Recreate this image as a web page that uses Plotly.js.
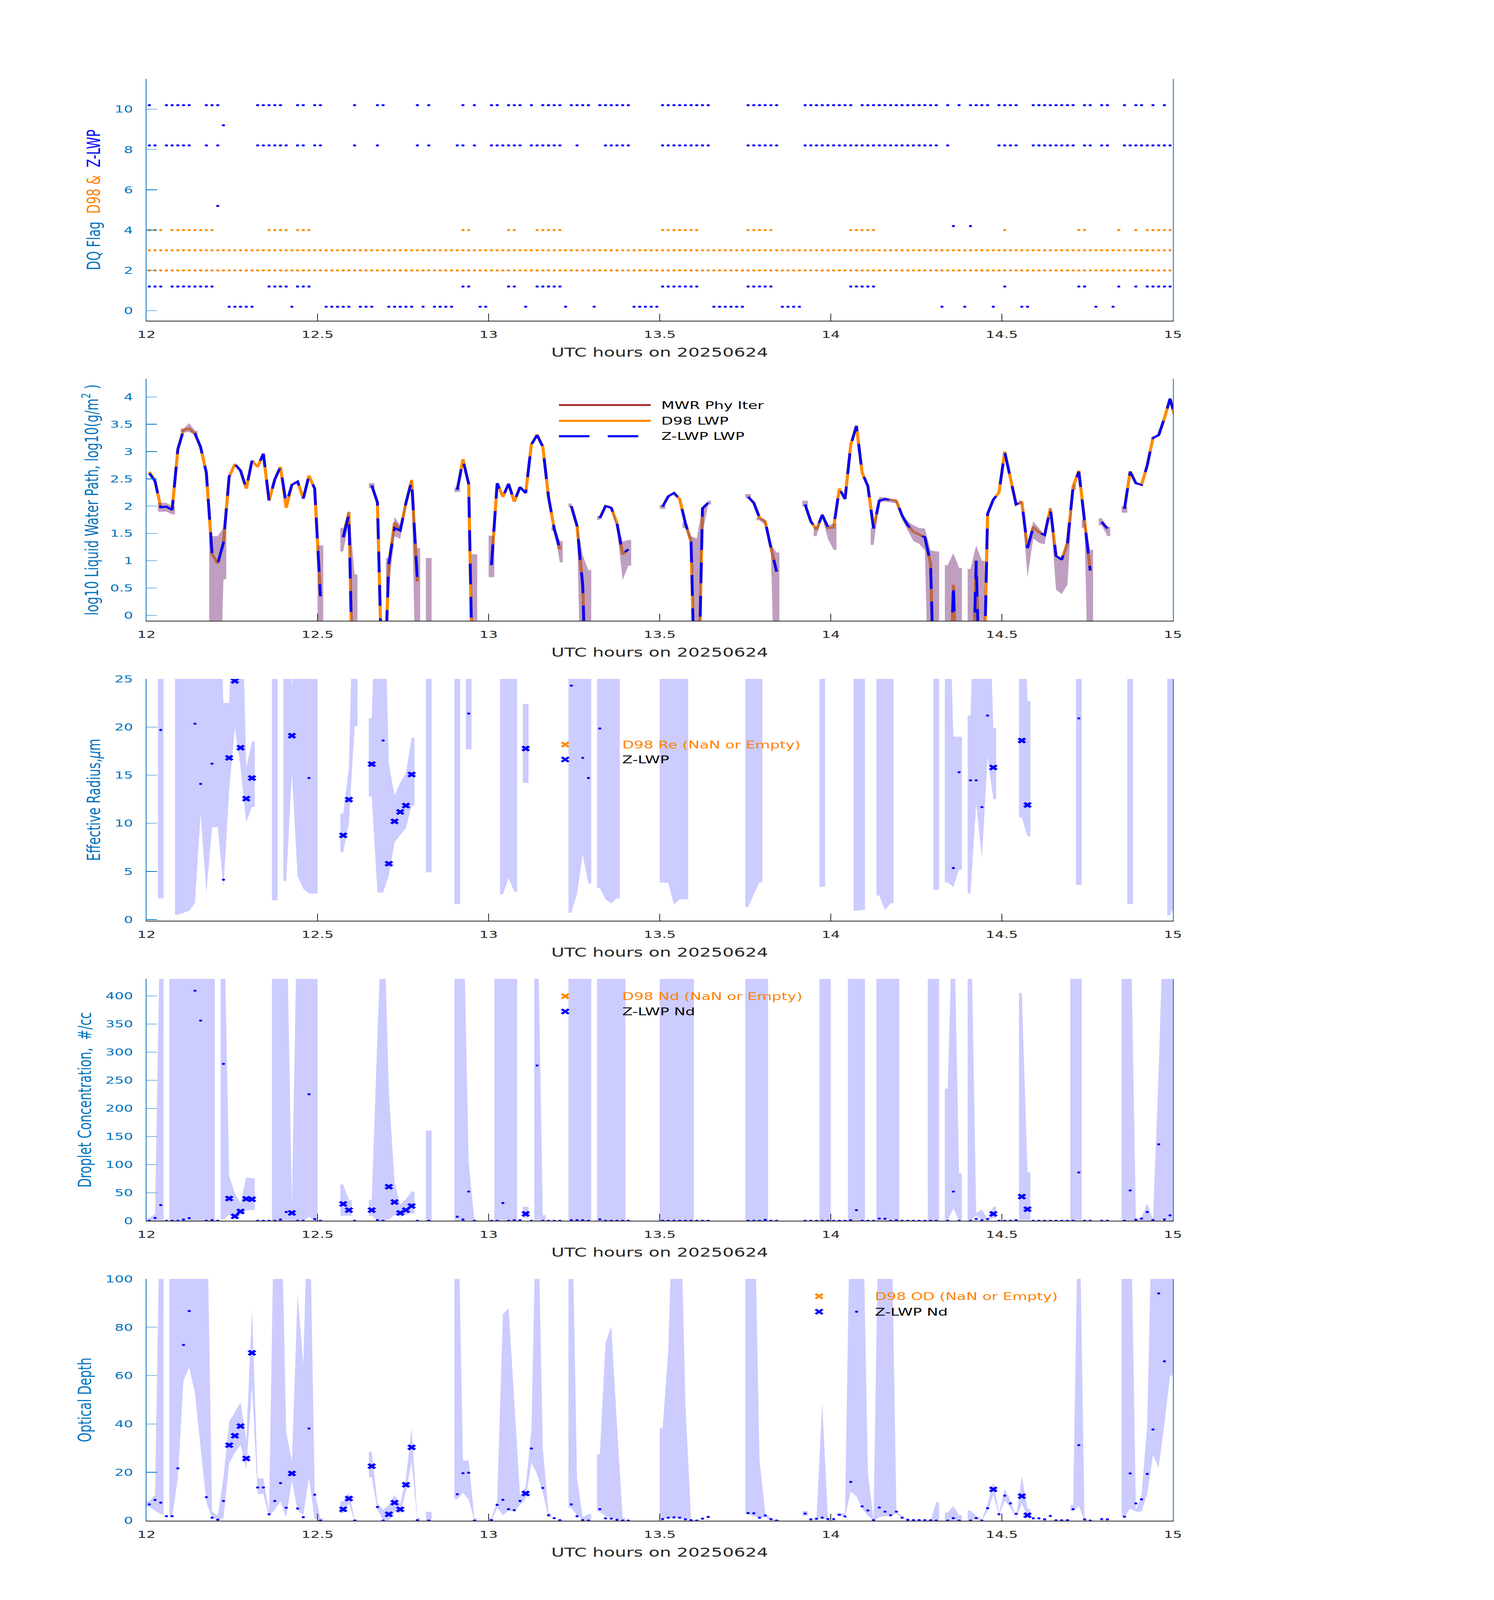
<!DOCTYPE html>
<html><head><meta charset="utf-8">
<script src="https://cdn.plot.ly/plotly-3.0.1.min.js"></script>
<style>html,body{margin:0;padding:0;background:#fff;overflow:hidden}#chart{width:3825px;height:6000px;transform-origin:0 0}</style>
</head><body><div id="chart"></div>
<script>
// ---------- time base: minute index (0 = 12:00-12:01 UTC) ----------
const startHour = 12;
const nMinutes = 181;
function hr(i){ return startHour + (i + 0.5) / 60; }
const xTicks = [12, 12.5, 13, 13.5, 14, 14.5, 15];

// ---------- Panel 1: DQ flags (minute indices where each flag is set) ----------
const d98FlagsAlways = [2, 3];            // set at every minute
const d98Flag4 = [0,1,2,4,5,6,7,8,9,10,11,21,22,23,24,26,27,28,55,56,63,64,68,69,70,71,72,90,91,92,93,94,95,96,105,106,107,108,109,123,124,125,126,127,150,163,164,170,173,175,176,177,178,179,180];
const zFlag10 = [0,3,4,5,6,7,10,11,12,19,20,21,22,23,26,27,29,30,36,40,41,47,49,55,57,60,61,63,64,65,67,69,70,71,72,74,75,76,77,79,80,81,82,83,84,90,91,92,93,94,95,96,97,98,105,106,107,108,109,110,115,116,117,118,119,120,121,122,123,125,126,127,128,129,130,131,132,133,134,135,136,137,138,140,142,144,145,146,147,149,150,151,152,155,156,157,158,159,160,161,162,164,165,167,168,171,173,174,176,178,180];
const zFlag9 = [13];
const zFlag8 = [0,1,3,4,5,6,7,10,12,19,20,21,22,23,24,26,27,29,30,36,40,47,49,54,55,57,60,61,62,63,64,65,67,68,69,70,71,72,75,80,81,82,83,84,90,91,92,93,94,95,96,97,98,105,106,107,108,109,110,115,116,117,118,119,120,121,122,123,124,125,126,127,128,129,130,131,132,133,134,135,136,137,138,140,149,150,151,152,155,156,157,158,159,160,161,162,164,165,167,168,171,172,173,174,175,176,177,178,179,180];
const zFlag5 = [12];
const zFlag4 = [141,144];
const zFlag1 = d98Flag4;
const zFlag0 = [14,15,16,17,18,25,31,32,33,34,35,37,38,39,42,43,44,45,46,48,50,51,52,53,58,59,66,73,78,85,86,87,88,89,99,100,101,102,103,104,111,112,113,114,139,143,148,153,154,166,169];

// ---------- Panel 2: log10 LWP  [minute, value] ----------
const lwpZ = [[0,2.60],[1,2.46],[2,1.98],[3,1.99],[4,1.93],[5,3.04],[6,3.40],[7,3.38],[8,3.33],[9,3.08],[10,2.61],[11,1.14],[12,0.95],[13,1.33],[14,2.54],[15,2.77],[16,2.65],[17,2.32],[18,2.83],[19,2.72],[20,2.96],[21,2.10],[22,2.49],[23,2.72],[24,2.05],[25,2.39],[26,2.45],[27,2.14],[28,2.56],[29,2.32],[30,0.35],
[34,1.43],[35,1.85],[36,-3],
[39,2.38],[40,2.07],[41,-2],[42,0.95],[43,1.60],[44,1.55],[45,2.06],[46,2.46],[47,0.66],
[54,2.30],[55,2.84],[56,2.41],[57,-3],
[60,0.92],[61,2.42],[62,2.17],[63,2.41],[64,2.08],[65,2.35],[66,2.24],[67,3.13],[68,3.30],[69,3.09],[70,2.17],[71,1.59],[72,1.21],
[74,2.00],[75,1.64],[76,0.55],[77,-3],
[79,1.78],[80,2.00],[81,1.97],[82,1.69],[83,1.12],[84,1.21],
[90,1.99],[91,2.18],[92,2.24],[93,2.13],[94,1.69],[95,1.35],[96,-3],[97,1.96],[98,2.06],
[105,2.17],[106,2.06],[107,1.79],[108,1.72],[109,1.24],[110,0.80],
[115,2.03],[116,1.72],[117,1.57],[118,1.84],[119,1.62],[120,1.61],[121,2.32],[122,2.13],[123,3.12],[124,3.47],[125,2.61],[126,2.37],[127,1.59],[128,2.10],[129,2.13],[130,2.11],[131,2.10],[132,1.83],[133,1.65],[134,1.53],[135,1.48],[136,1.43],[137,0.95],[138,-3],
[140,-3],[141,0.56],[142,-3],
[144,-3],[145,1.00],[146,-3],[147,1.86],[148,2.12],[149,2.25],[150,2.99],[151,2.53],[152,2.03],[153,2.08],[154,1.23],[155,1.62],[156,1.52],[157,1.47],[158,1.96],[159,1.09],[160,1.02],[161,1.33],[162,2.36],[163,2.63],[164,1.69],[165,0.82],
[167,1.71],[168,1.59],
[171,1.95],[172,2.63],[173,2.42],[174,2.39],[175,2.75],[176,3.25],[177,3.30],[178,3.61],[179,3.97],[180,3.57]];
const lwpD98 = [[0,2.63],[1,2.46],[2,1.98],[3,1.99],[4,1.93],[5,3.04],[6,3.40],[7,3.42],[8,3.33],[9,3.08],[10,2.61],[11,1.12],[12,0.95],[13,1.33],[14,2.54],[15,2.77],[16,2.65],[17,2.32],[18,2.83],[19,2.72],[20,2.96],[21,2.10],[22,2.49],[23,2.72],[24,1.97],[25,2.39],[26,2.45],[27,2.14],[28,2.56],[29,2.32],[30,0.35],
[34,1.43],[35,1.89],[36,-3],
[39,2.38],[40,2.07],[41,-2],[42,0.95],[43,1.70],[44,1.55],[45,2.06],[46,2.48],[47,0.62],
[54,2.30],[55,2.86],[56,2.41],[57,-3],
[60,0.92],[61,2.42],[62,2.17],[63,2.41],[64,2.08],[65,2.35],[66,2.24],[67,3.13],[68,3.31],[69,3.09],[70,2.17],[71,1.59],[72,1.21],
[74,2.00],[75,1.64],[76,0.55],[77,-3],
[79,1.78],[80,2.00],[81,1.97],[82,1.69],[83,1.12],[84,1.21],
[90,1.99],[91,2.18],[92,2.24],[93,2.13],[94,1.69],[95,1.35],[96,-3],[97,1.96],[98,2.06],
[105,2.17],[106,2.06],[107,1.79],[108,1.72],[109,1.24],[110,0.80],
[115,2.03],[116,1.72],[117,1.57],[118,1.84],[119,1.60],[120,1.61],[121,2.32],[122,2.13],[123,3.12],[124,3.47],[125,2.61],[126,2.37],[127,1.59],[128,2.10],[129,2.13],[130,2.11],[131,2.10],[132,1.83],[133,1.65],[134,1.53],[135,1.48],[136,1.43],[137,0.95],[138,-3],
[140,-3],[141,0.56],[142,-3],
[144,-3],[145,1.00],[146,-3],[147,1.86],[148,2.12],[149,2.25],[150,3.00],[151,2.53],[152,2.03],[153,2.08],[154,1.23],[155,1.62],[156,1.52],[157,1.47],[158,1.96],[159,1.09],[160,1.02],[161,1.33],[162,2.36],[163,2.65],[164,1.69],[165,0.82],
[167,1.71],[168,1.59],
[171,1.95],[172,2.64],[173,2.42],[174,2.39],[175,2.75],[176,3.25],[177,3.30],[178,3.61],[179,3.97],[180,3.57]];
// uncertainty band [minute, low, high]
const lwpBand = [[2,1.90,2.06],[3,1.90,2.06],[4,1.85,2.00],
[6,3.35,3.42],[7,3.36,3.52],[8,3.30,3.38],
[11,-3,1.45],[12,-3,1.45],[13,0.66,1.60],
[30,-3,1.28],
[34,1.17,1.60],[35,1.70,1.93],[36,-3,0.75],
[39,2.33,2.42],
[42,0.50,1.05],[43,1.45,1.80],[44,1.40,1.65],[45,2.00,2.10],[46,2.42,2.50],[47,-3,1.23],
[49,-3,1.05],
[54,2.26,2.34],
[57,-3,1.12],
[60,0.70,1.46],
[71,1.55,1.62],[72,0.97,1.36],
[74,1.98,2.05],[75,1.60,1.70],[76,-3,1.10],[77,-3,0.83],
[79,1.75,1.82],[80,1.98,2.03],[81,1.95,2.00],[82,1.60,1.70],[83,0.65,1.35],[84,0.91,1.38],
[90,1.95,2.02],
[94,1.60,1.70],[95,1.30,1.45],[96,-3,1.41],[97,1.50,1.98],[98,2.03,2.10],
[105,2.15,2.22],
[107,1.74,1.80],[108,1.65,1.75],[109,1.15,1.30],[110,-3,1.15],
[115,2.00,2.10],
[117,1.45,1.62],[118,1.80,1.88],[119,1.40,1.65],[120,1.20,1.68],
[127,1.29,1.60],[128,2.07,2.17],[129,2.08,2.16],[130,2.07,2.14],[131,2.05,2.12],[132,1.75,1.85],[133,1.55,1.72],[134,1.36,1.65],[135,1.31,1.60],[136,1.19,1.59],[137,-3,1.19],[138,-3,1.17],
[140,-3,0.92],[141,-3,1.14],[142,-3,0.87],
[144,-3,0.85],[145,-3,1.28],[146,-3,1.00],
[153,2.03,2.10],[154,0.70,1.30],[155,1.41,1.72],[156,1.33,1.60],[157,1.30,1.47],[158,1.90,2.00],[159,0.47,1.09],[160,0.39,1.02],[161,0.56,1.41],[162,2.30,2.40],
[164,1.60,1.75],[165,-3,1.20],
[167,1.65,1.78],[168,1.45,1.62],
[171,1.88,2.00]];

// ---------- Panel 3: effective radius (um) ----------
const reRetrieved = [[14,16.8],[15,24.8],[16,17.85],[17,12.56],[18,14.7],[25,19.1],[34,8.75],[35,12.46],[39,16.15],[42,5.8],[43,10.2],[44,11.18],[45,11.84],[46,15.07],[66,17.77],[148,15.8],[153,18.6],[154,11.9]];
const reOther = [[2,19.7],[8,20.35],[9,14.1],[11,16.2],[13,4.14],[28,14.7],[41,18.6],[56,21.4],[74,24.3],[76,16.8],[77,14.7],[79,19.85],[141,5.35],[142,15.3],[144,14.46],[145,14.46],[146,11.68],[147,21.2],[163,20.9]];
const reBand = [[2,2.2,40],
[5,0.5,40],[6,0.7,40],[7,0.9,40],[8,1.7,40],[9,11,40],[10,2.7,40],[11,9.6,40],[12,9.6,40],[13,3.3,22.5],[14,13.4,22.5],[15,19.9,40],[16,15.8,40],[17,10.1,15.8],[18,11.7,18.5],
[22,2.0,40],
[24,4.0,40],[25,15.2,24],[26,4.5,40],[27,3.2,40],[28,2.7,40],[29,2.7,40],
[34,7.0,11],[35,10,15.8],[36,20.1,40],
[39,12.8,20.9],[40,2.8,40],[41,2.8,40],[42,4.6,16.2],[43,8.0,12.9],[44,8.8,14.2],[45,9.5,15.2],[46,11.8,18.9],
[49,4.9,40],[54,1.6,40],[56,17.7,40],
[62,2.6,40],[63,4.3,40],[64,2.9,40],
[66,14.2,22.4],
[74,0.7,40],[75,2.7,40],[76,6.7,40],[77,3.75,40],
[79,3.3,40],[80,2.1,40],[81,1.7,40],[82,2.2,40],
[90,3.85,40],[91,3.8,40],[92,1.55,40],[93,2.1,40],[94,2.1,40],
[105,1.3,40],[106,2.6,40],[107,3.85,40],
[118,3.4,40],
[124,0.9,40],[125,1.0,40],
[128,2.5,40],[129,1.0,40],[130,1.7,40],
[138,3.1,40],
[140,3.85,40],[141,3.4,19],[142,5.2,19],
[144,2.7,21.2],[145,12,40],[146,6.4,40],[147,16.9,40],[148,12.5,19.9],
[153,10.6,40],[154,8.65,22.7],
[163,3.6,40],[172,1.6,40],
[179,0.45,40],[180,1.7,40]];

// ---------- Panel 4: droplet concentration (#/cc) ----------
const ndRetrieved = [[14,39.6],[15,8],[16,16.6],[17,39],[18,38.3],[25,14],[34,30],[35,19],[39,19],[42,60.6],[43,33.3],[44,14],[45,19],[46,26.3],[66,12.3],[148,12.3],[153,43],[154,20.6]];
const ndOther = [[0,0],[1,5],[2,28],[3,0],[4,0],[5,0],[6,2.3],[7,4.7],[8,409],[9,356],[10,0],[11,1.3],[12,0],[13,279],[19,0],[20,0],[21,0],[22,0],[23,2.3],[24,15.6],[26,0],[27,0],[28,225],[29,3],[30,0],[36,0],[40,1.3],[41,0],[47,0],[49,0],[54,7.3],[55,2.3],[56,52],[57,0],[60,0],[61,0],[62,31.6],[63,0],[64,1],[65,1],[67,0],[68,276],[69,0],[70,0],[71,0],[72,0],[74,1],[75,1],[76,1],[77,0],[79,2.7],[80,0],[81,0],[82,0],[83,0],[84,0],
[90,0],[91,0],[92,0],[93,0],[94,0],[95,0],[96,0],[97,0],[98,0],[105,0],[106,0],[107,0],[108,1.7],[109,0],[110,0],[115,0],[116,0],[117,0],[118,0],[119,0],[120,0],[121,0],[122,0],[123,1],[124,19],[125,0],[126,0],[127,0],[128,4],[129,3.7],[130,0],[131,1],[132,0],[133,0],[134,0],[135,0],[136,0],[137,0],[138,0],[140,0],[141,52],[142,0],[144,0],[145,3.3],[146,1],[147,3],[149,0],[150,0],[151,0],[152,1],[155,0],[156,0],[157,0],[158,0],[159,0],[160,0],[161,0],[162,0],[163,86],[164,0],[165,0],[167,0],[168,0],[171,0],[172,54],[173,2],[174,4],[175,15.6],[176,1.3],[177,136],[178,2.3],[179,9.7],[180,0.5]];
const ndBand = [[0,0,5],[1,0,12],[2,0,600],
[4,0,600],[5,0,600],[6,0,600],[7,0,600],[8,0,600],[9,0,600],[10,0,600],[11,0,600],
[13,2,600],[14,10.7,79.6],[15,4,49],[16,10,32],[17,19,77],[18,19,75.6],
[22,0,600],[23,0,600],[24,0,600],[25,0,28],[26,0,600],[27,0,600],[28,7,600],[29,0,600],
[34,9,64.6],[35,9,37],
[39,9,37.5],[40,0,330],[41,0,600],[42,2,230],[43,10.7,69],[44,7,29],[45,10.7,39],[46,13,52],
[49,0,160],
[54,0,600],[55,0,600],[56,1,104],[57,0,2],
[61,0,600],[62,0,600],[63,0,600],[64,0,600],
[66,5,25],
[68,0,600],[69,0,10],
[74,0,600],[75,0,600],[76,0,600],[77,0,600],
[79,0,600],[80,0,600],[81,0,600],[82,0,600],[83,0,600],
[90,0,600],[91,0,600],[92,0,600],[93,0,600],[94,0,600],[95,0,600],
[105,0,600],[106,0,600],[107,0,600],[108,0,600],
[118,0,600],[119,0,600],
[123,0,600],[124,0,600],[125,0,600],
[128,0,600],[129,0,600],[130,0,600],[131,0,600],
[137,0,600],[138,0,600],
[140,0,235],[141,22,600],[142,0,84],
[144,0,600],[145,9,14],[146,1,20],[147,2,4],[148,5,25],
[153,1,405],[154,1,86],
[162,0,600],[163,0,600],
[171,0,600],[172,0,600],[173,0,2],[174,0,6],[175,0,31],[176,0,2],[177,0,267],[178,3,600],[179,0,600],[180,0,600]];

// ---------- Panel 5: optical depth ----------
const odRetrieved = [[14,31.2],[15,35.1],[16,39.1],[17,25.7],[18,69.4],[25,19.5],[34,4.65],[35,9.1],[39,22.5],[42,2.6],[43,7.4],[44,4.65],[45,14.8],[46,30.3],[66,11.2],[148,12.9],[153,10.1],[154,2.2]];
const odOther = [[0,6.7],[1,8.5],[2,7.4],[3,1.8],[4,1.8],[5,21.6],[6,72.7],[7,86.7],[10,9.7],[11,1.2],[12,0.4],[13,8.1],[19,13.7],[20,13.7],[21,2.6],[22,8.1],[23,15.5],[24,5.3],[26,5],[27,1.4],[28,38.1],[29,10.7],[30,0],[36,0],[40,5.6],[41,0],[47,0.15],[49,0],[54,10.9],[55,19.6],[56,19.8],[57,0],[60,0.2],[61,6.5],[62,8.6],[63,4.7],[64,4.3],[65,8.1],[67,29.8],[69,13.5],[70,2.2],[71,1],[72,0.15],[74,6.7],[75,1.8],[76,0.2],[77,0],[79,4.7],[80,0.9],[81,0.8],[82,0.3],[83,0],[84,0],
[90,0.6],[91,1.2],[92,1.3],[93,1.2],[94,0.5],[95,0.15],[96,0],[97,0.8],[98,1.5],[105,3.1],[106,3.0],[107,1.2],[108,2.1],[109,0.6],[110,0],[115,2.9],[116,0.5],[117,0.7],[118,1.2],[119,0.6],[120,0.6],[121,2.4],[122,1.7],[123,16],[125,5.9],[126,4.2],[127,0.2],[128,5.4],[129,3.7],[130,2.2],[131,3.7],[132,1.2],[133,0.3],[134,0.2],[135,0.2],[136,0.15],[137,0.1],[138,0],[140,0],[141,1],[142,0],[144,0],[145,1],[146,0],[147,5.1],[149,2.6],[150,10.3],[151,7.1],[152,2.8],[155,0.9],[156,0.9],[157,0.5],[158,1.9],[159,0.1],[160,0.1],[161,0.15],[162,4.7],[163,31.2],[164,0.5],[165,0],[167,0.6],[168,0.5],[171,1.6],[172,19.5],[173,7.1],[174,8.8],[175,19.3],[176,37.7],[177,94],[178,65.9],[180,76.4]];
const odBand = [[0,5.7,8],[1,4.1,10.7],[2,2.6,150],
[4,1.4,150],[5,17.7,150],[6,58,150],[7,63.4,150],[8,52.6,150],[9,30,150],[10,7.6,150],[11,1.0,3.7],[12,0.5,2.0],[13,1.0,17.8],[14,23.5,41],[15,28.1,44.8],[16,31.2,49],[17,21.2,33.2],[18,55.4,87.4],[19,11,17.5],[20,11,17.5],[21,1.5,3.5],[22,4.5,150],[23,8,150],[24,1.3,36.7],[25,16.6,24.5],[26,4.1,93.6],[27,2.2,65],[28,17.7,150],[29,0.5,12],[30,0,1],
[34,3,8],[35,7,11.6],[36,0,0.6],
[39,18,28.5],[40,4.5,7.2],[41,0,4.5],[42,0,6.4],[43,3.7,10.7],[44,2.9,6.8],[45,12.2,17.7],[46,24.3,38.2],[47,0,1.1],
[49,0,3.6],
[54,8.8,150],[55,11.5,24.8],[56,8.8,24.8],[57,0,1],
[60,0,1],[61,5.3,8],[62,2.2,85.5],[63,4.1,87.8],[64,3.7,50],[65,6.4,10.7],[66,9,14.1],[67,23.9,37.4],[68,19.2,150],[69,11.5,30],[70,1.4,3],
[74,5.3,150],[75,2.2,17.7],[76,0.2,1.4],[77,0,2.7],
[79,3.7,27.4],[80,1.8,73.5],[81,1,80.5],[82,0.3,40],[83,0,1],
[90,0.5,38.2],[91,1,70],[92,1,150],[93,1,150],[94,0.3,48.7],[95,0,0.2],
[105,2.6,150],[106,1.8,150],[107,1.0,25],[108,1.5,3],[109,0.2,1],[110,0,0.3],
[115,2,4],
[117,0.5,1],[118,1,48.7],[119,0.5,1],
[121,2,3],[122,1.5,3],[123,12,150],[124,10,150],[125,5,150],[126,2,20],[127,0,0.3],[128,1.4,150],[129,1.8,150],[130,1.8,150],[131,3,4],[132,1,1.5],[133,0.3,0.5],
[137,0,0.2],[138,0,7.6],
[140,0,3.3],[141,0,6],[142,0,2.2],
[144,0,4.1],[145,0.5,2],[146,0,0.5],[147,4,6.8],[148,10.6,16],[149,2.2,3],[150,8.2,13],[151,5.3,8.4],[152,1,1.4],[153,7,18.4],[154,1.5,4.8],
[162,4,6.4],[163,6,150],[164,0,0.5],
[171,1.5,150],[172,4.9,150],[173,3.7,4.5],[174,3.7,10.7],[175,11,40],[176,27,150],[177,22,150],[178,40,150],[179,60,150],[180,60,150]];

// ---------- helpers ----------
const BLUE = '#0000FF', ORANGE = '#FF8C00', AXBLUE = '#0072BD', DARK = '#262626';
function series(pairs){
  const x=[], y=[]; let prev=null;
  pairs.forEach(([i,v])=>{ if(prev!==null && i!==prev+1){x.push(null);y.push(null);} x.push(hr(i)); y.push(v); prev=i; });
  return {x, y};
}
function bandPolys(list){
  const xs=[], ys=[], half=0.5/60; let k=0;
  while(k<list.length){
    let j=k; while(j+1<list.length && list[j+1][0]===list[j][0]+1) j++;
    const seg=list.slice(k,j+1), a=seg[0], b=seg[seg.length-1];
    xs.push(hr(a[0])-half); ys.push(a[2]);
    seg.forEach(p=>{xs.push(hr(p[0])); ys.push(p[2]);});
    xs.push(hr(b[0])+half); ys.push(b[2]);
    xs.push(hr(b[0])+half); ys.push(b[1]);
    for(let m=seg.length-1;m>=0;m--){xs.push(hr(seg[m][0])); ys.push(seg[m][1]);}
    xs.push(hr(a[0])-half); ys.push(a[1]);
    xs.push(null); ys.push(null);
    k=j+1;
  }
  return {x:xs, y:ys};
}
function pts(pairs){ return {x:pairs.map(p=>hr(p[0])), y:pairs.map(p=>p[1])}; }
function flagTrace(minutes, level, color){
  return {type:'scatter', mode:'markers', x:minutes.map(hr), y:minutes.map(()=>level), xaxis:'x', yaxis:'y',
    marker:{color:color, size:8}, hoverinfo:'skip', showlegend:false};
}
const ax = k => (k===1?'':String(k));
const allMinutes = Array.from({length:nMinutes}, (_,i)=>i);

const traces = [];
// Panel 1
d98FlagsAlways.forEach(f=>traces.push(flagTrace(allMinutes, f, ORANGE)));
traces.push(flagTrace(d98Flag4, 4, ORANGE));
[[zFlag10,10],[zFlag9,9],[zFlag8,8],[zFlag5,5],[zFlag4,4],[zFlag1,1],[zFlag0,0]].forEach(([m,f])=>traces.push(flagTrace(m, f+0.2, BLUE)));

// Panel 2
const d98s = series(lwpD98), zs = series(lwpZ), lb = bandPolys(lwpBand);
traces.push({type:'scatter', mode:'lines', x:d98s.x, y:d98s.y, xaxis:'x2', yaxis:'y2', line:{color:ORANGE, width:8}, showlegend:false, hoverinfo:'skip'});
traces.push({type:'scatter', mode:'lines', x:lb.x, y:lb.y, xaxis:'x2', yaxis:'y2', fill:'toself', fillcolor:'rgba(128,64,128,0.5)', line:{width:0}, showlegend:false, hoverinfo:'skip'});
traces.push({type:'scatter', mode:'lines', x:zs.x, y:zs.y, xaxis:'x2', yaxis:'y2', line:{color:BLUE, width:7, dash:'78px,47px'}, showlegend:false, hoverinfo:'skip'});

// Panels 3-5
[[reBand, reOther, reRetrieved, 3],[ndBand, ndOther, ndRetrieved, 4],[odBand, odOther, odRetrieved, 5]].forEach(([band, other, ret, k])=>{
  const b = bandPolys(band), o = pts(other), r = pts(ret);
  traces.push({type:'scatter', mode:'lines', x:b.x, y:b.y, xaxis:'x'+k, yaxis:'y'+k, fill:'toself', fillcolor:'rgba(0,0,255,0.2)', line:{width:0}, showlegend:false, hoverinfo:'skip'});
  traces.push({type:'scatter', mode:'markers', x:o.x, y:o.y, xaxis:'x'+k, yaxis:'y'+k, marker:{color:BLUE, size:8}, showlegend:false, hoverinfo:'skip'});
  traces.push({type:'scatter', mode:'markers', x:r.x, y:r.y, xaxis:'x'+k, yaxis:'y'+k, marker:{color:BLUE, size:20, symbol:'x', line:{width:0}}, showlegend:false, hoverinfo:'skip'});
});

// ---------- layout (designed on a 3825 x 6000 canvas) ----------
const W=3825, H=6000;
const PX = p => p/W, PY = p => 1 - p/H;
const panels = [[296,1203],[1421,2328],[2546,3453],[3671,4578],[4796,5703]];
const yRanges = [[-0.5,11.5],[-0.1,4.33],[-0.13,25],[0,430],[-0.1,100]];
const yTicks = [[0,2,4,6,8,10],[0,0.5,1,1.5,2,2.5,3,3.5,4],[0,5,10,15,20,25],[0,50,100,150,200,250,300,350,400],[0,20,40,60,80,100]];
const yTitles = [
  '<span style="color:#0072BD">DQ Flag</span>  <span style="color:#FF8000">D98 &amp;</span>  <span style="color:#0000FF">Z-LWP</span>',
  'log10 Liquid Water Path, log10(g/m<sup>2</sup> )',
  'Effective Radius,<i>μ</i>m',
  'Droplet Concentration,  #/cc',
  'Optical Depth'];
const yStandoff = [22, 16, 22, 22, 22];
const layout = {width:W, height:H, margin:{l:0,r:0,t:0,b:0}, paper_bgcolor:'#fff', plot_bgcolor:'#fff',
  font:{family:'DejaVu Sans', color:DARK}, showlegend:false, shapes:[], annotations:[]};
for(let k=1;k<=5;k++){
  const [top,bot] = panels[k-1];
  layout['xaxis'+ax(k)] = {domain:[PX(375),PX(3003)], anchor:'y'+ax(k), range:[12,15], tickvals:xTicks,
    ticks:'inside', ticklen:27, tickwidth:2, tickcolor:DARK, showline:true, linecolor:DARK, linewidth:2,
    showgrid:false, zeroline:false, tickfont:{size:37, color:DARK}, ticklabelstandoff:18,
    title:{text:'UTC hours on 20250624', font:{size:46, color:DARK}, standoff:30}};
  layout['yaxis'+ax(k)] = {domain:[PY(bot),PY(top)], anchor:'x'+ax(k), range:yRanges[k-1], tickvals:yTicks[k-1],
    ticks:'inside', ticklen:27, tickwidth:2, tickcolor:AXBLUE, showline:true, mirror:true, linecolor:AXBLUE, linewidth:2,
    showgrid:false, zeroline:false, tickfont:{size:37, color:AXBLUE}, ticklabelstandoff:25,
    title:{text:yTitles[k-1], font:{size:46, color:AXBLUE}, standoff:yStandoff[k-1]}};
}
// manual legends (MATLAB style: long line samples, markers left of labels)
function lineSample(y, color, width, dash){
  layout.shapes.push({type:'line', xref:'paper', yref:'paper', x0:PX(1431), x1:PX(1666), y0:PY(y), y1:PY(y), line:{color:color, width:width, dash:dash||'solid'}});
}
function label(x, y, text, color){
  layout.annotations.push({xref:'paper', yref:'paper', x:PX(x), y:PY(y), xanchor:'left', yanchor:'middle', showarrow:false, text:text, font:{size:39, color:color}});
}
function xMark(x, y, color){
  const s=9;
  layout.shapes.push({type:'line', xref:'paper', yref:'paper', x0:PX(x-s), x1:PX(x+s), y0:PY(y-s), y1:PY(y+s), line:{color:color, width:7}});
  layout.shapes.push({type:'line', xref:'paper', yref:'paper', x0:PX(x-s), x1:PX(x+s), y0:PY(y+s), y1:PY(y-s), line:{color:color, width:7}});
}
function dotMark(x, y, color){
  layout.shapes.push({type:'circle', xref:'paper', yref:'paper', x0:PX(x-4), x1:PX(x+4), y0:PY(y+4), y1:PY(y-4), fillcolor:color, line:{width:0}});
}
lineSample(1519, '#A52A2A', 7); label(1691, 1519, 'MWR Phy Iter', '#000');
lineSample(1578, ORANGE, 8); label(1691, 1578, 'D98 LWP', '#000');
lineSample(1636, BLUE, 8, '78px,47px'); label(1691, 1636, 'Z-LWP LWP', '#000');
xMark(1447, 2792, ORANGE); label(1591, 2792, 'D98 Re (NaN or Empty)', '#FF8000');
xMark(1447, 2848, BLUE); label(1591, 2848, 'Z-LWP', '#000');
xMark(1447, 3736, ORANGE); label(1591, 3736, 'D98 Nd (NaN or Empty)', '#FF8000');
xMark(1447, 3793, BLUE); label(1591, 3793, 'Z-LWP Nd', '#000');
xMark(2097, 4861, ORANGE); label(2238, 4861, 'D98 OD (NaN or Empty)', '#FF8000');
xMark(2097, 4919, BLUE); dotMark(2193, 4919, BLUE); label(2238, 4919, 'Z-LWP Nd', '#000');

// The sandbox window may be shorter than the 6000 px design height: fit the whole figure into it.
const el = document.getElementById('chart');
const sx = Math.min(1, window.innerWidth / W), sy = Math.min(1, window.innerHeight / H);
if (sx < 1 || sy < 1) el.style.transform = 'scale(' + sx + ',' + sy + ')';
Plotly.newPlot('chart', traces, layout, {staticPlot:true});
</script></body></html>
